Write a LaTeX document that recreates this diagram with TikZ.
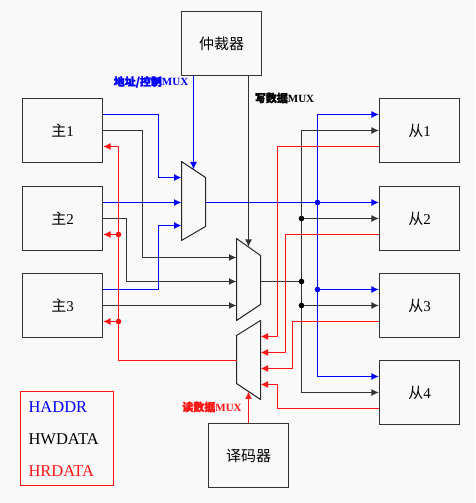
\documentclass[tikz,border=0pt]{standalone}
\usepackage{fontspec}
\setmainfont{Liberation Serif}
\newfontfamily\cjk{Noto Sans CJK SC}
\newfontfamily\cjkb[FakeBold=2]{Noto Sans CJK SC}
\usetikzlibrary{calc}
\usetikzlibrary{arrows.meta}
\definecolor{fond}{RGB}{249,249,249}
\definecolor{rouge}{RGB}{255,20,20}
% point de jonction
\newcommand{\Jonction}[2]{\fill[#1] (#2) circle (2.8) ;}

\begin{document}
\begin{tikzpicture}[x=1pt,y=1pt,>={Latex[length=7.5pt,width=7pt]},
    boite/.style={draw=black!80,line width=1.2pt,minimum width=80pt,
        minimum height=64pt,font=\fontsize{15}{18}\selectfont},
    mux/.style={draw=black!85,line width=1pt,join=round},
    adr/.style={draw=blue,line width=1.2pt},
    dat/.style={draw=black!80,line width=1.2pt},
    lec/.style={draw=rouge,line width=1.2pt},
    titre/.style={font=\fontsize{11}{13}\selectfont\bfseries}]

\fill[fond] (0,0) rectangle (475,503);

% maitres, esclaves, arbitre, decodeur
\node[boite] (M1) at (62.5,372.5) {{\cjk 主}1};
\node[boite] (M2) at (62.5,284.5) {{\cjk 主}2};
\node[boite] (M3) at (62.5,197.5) {{\cjk 主}3};
\node[boite] (S1) at (419.5,372.5) {{\cjk 从}1};
\node[boite] (S2) at (419.5,284.5) {{\cjk 从}2};
\node[boite] (S3) at (419.5,197.5) {{\cjk 从}3};
\node[boite] (S4) at (419.5,110.5) {{\cjk 从}4};
\node[boite] (Arb) at (221.5,459.5) {\cjk 仲裁器};
\node[boite] (Dec) at (248.5,47.5) {\cjk 译码器};

% les trois MUX
\draw[mux] (181.5,341.5)--(205.5,325.5)--(205.5,276.5)--(181.5,262.5)--cycle;
\coordinate (A1) at (181.5,325.5) ;
\coordinate (A2) at (181.5,300.5) ;
\coordinate (A3) at (181.5,277.5) ;
\coordinate (Ao) at (205.5,300.5) ;
\coordinate (At) at (193.5,333.5) ;

\draw[mux] (236.5,264.5)--(260.5,247.5)--(260.5,198.5)--(236.5,182.5)--cycle;
\coordinate (W1) at (236.5,245.5) ;
\coordinate (W2) at (236.5,221.5) ;
\coordinate (W3) at (236.5,197.5) ;
\coordinate (Wo) at (260.5,221.5) ;
\coordinate (Wt) at (248.5,256) ;

\draw[mux] (236.5,167.5)--(260.5,182.5)--(260.5,103.5)--(236.5,119.5)--cycle;
\coordinate (R1) at (260.5,166.5) ;
\coordinate (R2) at (260.5,150.5) ;
\coordinate (R3) at (260.5,134.5) ;
\coordinate (R4) at (260.5,118.5) ;
\coordinate (Ro) at (236.5,142.5) ;
\coordinate (Rb) at (248.5,111.5) ;

\node[titre,blue] (tA) at (151,421) {{\cjkb 地址/控制}MUX};
\node[titre] (tW) at (284.5,405) {{\cjkb 写数据}MUX};
\node[titre,rouge] (tR) at (212,96) {{\cjkb 读数据}MUX};

% HADDR
\draw[adr,->] (Arb.south -| At) -- (At);
\draw[adr,->] (M1.east) ++(0,16) -| (158.5,325.5) -- (A1);
\draw[adr,->] (M2.east) ++(0,16) -- (A2);
\draw[adr,->] (M3.east) ++(0,16) -| (158.5,277.5) -- (A3);
\draw[adr,->] (Ao) -- (Ao -| S2.west);
\draw[adr,<->] ($(S1.west)+(0,16)$) -| (317.5,126.5) -- ($(S4.west)+(0,16)$);
\draw[adr,->] (317.5,213.5) -- ($(S3.west)+(0,16)$);
\Jonction{blue}{317.5,300.5}
\Jonction{blue}{317.5,213.5}

% HWDATA
\draw[dat,->] (Arb.south -| Wt) -- (Wt);
\draw[dat,->] (M1.east) -| (142.5,245.5) -- (W1);
\draw[dat,->] (M2.east) -| (126.5,221.5) -- (W2);
\draw[dat,->] (M3.east) -- (W3);
\draw[dat] (Wo) -- (301.5,221.5);
\draw[dat,<->] (S1.west) -| (301.5,110.5) -- (S4.west);
\draw[dat,->] (301.5,284.5) -- (S2.west);
\draw[dat,->] (301.5,197.5) -- (S3.west);
\Jonction{black}{301.5,284.5}
\Jonction{black}{301.5,221.5}
\Jonction{black}{301.5,197.5}

% HRDATA
\draw[lec,->] (Dec.north -| Rb) -- (Rb);
\draw[lec,->] (S1.west) ++(0,-16) -| (277.5,166.5) -- (R1);
\draw[lec,->] (S2.west) ++(0,-16) -| (285.5,150.5) -- (R2);
\draw[lec,->] (S3.west) ++(0,-16) -| (292.5,134.5) -- (R3);
\draw[lec,->] (S4.west) ++(0,-16) -| (277.5,118.5) -- (R4);
\draw[lec,->] (Ro) -| (118.5,356.5) -- ($(M1.east)+(0,-16)$);
\draw[lec,->] (118.5,268.5) -- ($(M2.east)+(0,-16)$);
\draw[lec,->] (118.5,181.5) -- ($(M3.east)+(0,-16)$);
\Jonction{rouge}{118.5,268.5}
\Jonction{rouge}{118.5,181.5}

% legende
\draw[rouge,line width=1pt] (20.5,17.5) rectangle (113.5,111.5);
\node[anchor=west,blue,font=\fontsize{16.5}{18}\selectfont] (L1) at (25,96) {HADDR};
\node[anchor=west,font=\fontsize{16.5}{18}\selectfont] (L2) at (25,64) {HWDATA};
\node[anchor=west,rouge,font=\fontsize{16.5}{18}\selectfont] (L3) at (25,32) {HRDATA};

\end{tikzpicture}
\end{document}
